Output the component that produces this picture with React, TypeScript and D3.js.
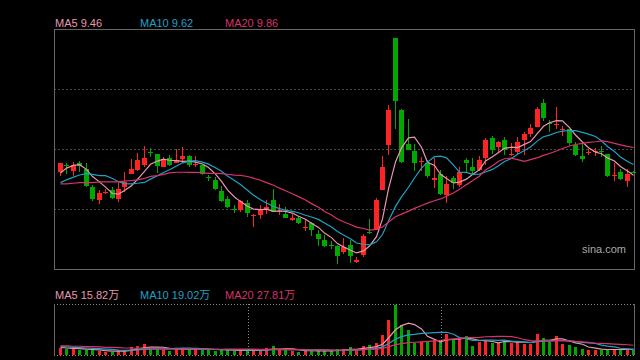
import React from "react";
import * as d3 from "d3";

// daily candles, 90 sessions
const opens = [
  9.51, 9.6, 9.52, 9.64, 9.54, 9.28, 9.1, 9.21, 9.24, 9.11,
  9.29, 9.48, 9.53, 9.61, 9.79, 9.76, 9.58, 9.7, 9.64, 9.69,
  9.74, 9.61, 9.6, 9.43, 9.39, 9.23, 9.11, 8.97, 8.95, 9.05,
  8.86, 8.88, 8.95, 9.1, 8.93, 8.9, 8.81, 8.84, 8.7, 8.76,
  8.61, 8.52, 8.44, 8.43, 8.35, 8.45, 8.2, 8.3, 8.64, 8.66,
  9.24, 9.9, 11.45, 10.4, 9.91, 9.81, 9.65, 9.64, 9.39, 9.48,
  9.17, 9.41, 9.32, 9.68, 9.57, 9.53, 9.71, 10.0, 9.86, 9.97,
  9.75, 9.8, 9.97, 10.05, 10.16, 10.5, 10.21, 10.19, 10.12, 10.12,
  9.9, 9.74, 9.78, 9.8, 9.81, 9.76, 9.45, 9.51, 9.38, 9.51,
];
const closes = [
  9.63, 9.59, 9.6, 9.59, 9.3, 9.11, 9.2, 9.22, 9.13, 9.26,
  9.36, 9.55, 9.68, 9.71, 9.78, 9.59, 9.69, 9.6, 9.68, 9.73,
  9.6, 9.62, 9.47, 9.42, 9.25, 9.08, 9.0, 8.96, 9.08, 8.91,
  8.88, 8.96, 8.99, 8.93, 8.94, 8.84, 8.84, 8.76, 8.71, 8.66,
  8.53, 8.43, 8.43, 8.28, 8.42, 8.29, 8.23, 8.58, 8.63, 9.1,
  9.58, 10.4, 10.54, 9.65, 9.82, 9.64, 9.66, 9.45, 9.42, 9.18,
  9.33, 9.34, 9.51, 9.64, 9.52, 9.68, 9.97, 9.82, 9.94, 9.82,
  9.77, 9.94, 10.05, 10.14, 10.42, 10.28, 10.2, 10.2, 10.13, 9.92,
  9.75, 9.69, 9.79, 9.81, 9.8, 9.45, 9.46, 9.4, 9.48, 9.5,
];
const highs = [
  9.64, 9.64, 9.65, 9.66, 9.64, 9.32, 9.24, 9.26, 9.28, 9.35,
  9.5, 9.69, 9.78, 9.88, 9.85, 9.77, 9.72, 9.75, 9.84, 9.86,
  9.75, 9.74, 9.61, 9.46, 9.43, 9.3, 9.15, 9.02, 9.1, 9.1,
  8.9, 9.02, 9.1, 9.26, 9.04, 8.99, 8.9, 8.86, 8.81, 8.78,
  8.66, 8.59, 8.5, 8.44, 8.55, 8.52, 8.27, 8.6, 8.82, 9.13,
  9.74, 10.47, 11.45, 10.41, 10.27, 9.91, 9.72, 9.68, 9.7, 9.53,
  9.45, 9.44, 9.57, 9.71, 9.7, 9.74, 9.99, 10.02, 9.95, 10.01,
  9.92, 10.01, 10.09, 10.2, 10.44, 10.56, 10.26, 10.45, 10.17, 10.13,
  9.94, 9.92, 9.83, 9.85, 9.88, 9.77, 9.63, 9.55, 9.54, 9.52,
];
const lows = [
  9.45, 9.48, 9.45, 9.51, 9.28, 9.09, 9.04, 9.18, 9.11, 9.07,
  9.22, 9.47, 9.52, 9.58, 9.72, 9.49, 9.57, 9.59, 9.63, 9.64,
  9.58, 9.57, 9.46, 9.38, 9.24, 9.07, 8.98, 8.91, 8.93, 8.85,
  8.71, 8.82, 8.89, 8.92, 8.88, 8.83, 8.8, 8.75, 8.65, 8.58,
  8.43, 8.42, 8.38, 8.17, 8.32, 8.19, 8.18, 8.27, 8.61, 8.66,
  9.24, 9.75, 10.13, 9.64, 9.82, 9.52, 9.52, 9.42, 9.27, 9.17,
  9.05, 9.25, 9.29, 9.51, 9.48, 9.52, 9.6, 9.77, 9.8, 9.75,
  9.74, 9.75, 9.75, 10.01, 10.15, 10.25, 10.08, 10.13, 10.03, 9.9,
  9.74, 9.65, 9.75, 9.74, 9.72, 9.43, 9.38, 9.39, 9.29, 9.49,
];
// volume, in 万 shares
const volumes = [
  19.2, 16.4, 20.1, 13.5, 13.5, 15.2, 11.5, 7.7, 7.7, 13.5,
  15.2, 22.1, 25.8, 30.7, 18.1, 18.1, 18.1, 11.5, 16.4, 19.2,
  15.2, 18.1, 16.4, 16.4, 12.3, 14.4, 14.4, 12.3, 13.5, 14.4,
  12.3, 12.3, 20.1, 25.8, 15.2, 14.4, 12.3, 9.5, 12.3, 12.3,
  13.5, 10.6, 11.5, 16.4, 18.5, 23.0, 10.6, 25.0, 27.8, 34.4,
  56.5, 99.6, 142.6, 87.0, 70.9, 35.3, 37.3, 37.3, 42.2, 37.3,
  61.1, 43.9, 46.8, 53.7, 25.8, 37.3, 42.2, 34.4, 35.3, 43.9,
  34.4, 37.3, 31.6, 31.6, 59.4, 49.7, 37.3, 53.7, 31.6, 27.8,
  23.0, 18.1, 13.5, 15.2, 13.5, 18.1, 18.1, 13.5, 16.4, 13.5,
];

// moving-average values before a full window exists
const ma5Head = [9.49, 9.56, 9.6, 9.61];
const ma10Head = [9.35, 9.39, 9.43, 9.46, 9.48, 9.47, 9.45, 9.45, 9.41];
const ma20Head = [
  9.33, 9.33, 9.34, 9.35, 9.35, 9.35, 9.36, 9.36, 9.36, 9.36,
  9.37, 9.38, 9.39, 9.41, 9.44, 9.45, 9.47, 9.49, 9.5,
];
const vma5Head = [22, 20, 19, 18];
const vma10Head = [24, 23, 22, 21, 20, 19, 18, 17, 16];
const vma20Head = [
  26, 26, 25, 25, 24, 24, 23, 22, 22, 21,
  20, 20, 19, 19, 18, 18, 17, 17, 17,
];

const maNames = ["MA5", "MA10", "MA20"];
const priceMaLabels = ["9.46", "9.62", "9.86"];
const volMaLabels = ["15.82万", "19.02万", "27.81万"];

const priceMin = 8.097;
const priceMax = 11.577;
const volMax = 146;
const separators = [29, 59];

const colors = {
  up: "#ff2424",
  down: "#00a800",
  ma: ["#e897ae", "#1da2c4", "#d6336c"],
  border: "#666",
  grid: "#4a4a4a",
};

const width = 640;
const height = 360;
const main = { left: 54, right: 634, top: 29, bottom: 269 };
const vol = { top: 304, bottom: 355 };
const font = "'Liberation Sans', Arial, 'Noto Sans CJK SC', sans-serif";

function movingAvg(values: number[], n: number, head: number[]) {
  return values.map((_, i) =>
    i < n - 1 ? head[i] : (d3.mean(values.slice(i - n + 1, i + 1)) as number)
  );
}

const App = () => {
  const idx = d3.range(closes.length);
  const x = d3
    .scaleBand<number>()
    .domain(idx)
    .range([56.8, 636.4])
    .paddingInner(0.22)
    .paddingOuter(0.11);
  const y = d3.scaleLinear().domain([priceMin, priceMax]).range([main.bottom, main.top]);
  const yv = d3.scaleLinear().domain([0, volMax]).range([vol.bottom, vol.top]);

  const cx = (i: number) => Math.round((x(i) as number) + x.bandwidth() / 2);
  const bodyW = Math.round(x.bandwidth());

  const priceMAs = [
    movingAvg(closes, 5, ma5Head),
    movingAvg(closes, 10, ma10Head),
    movingAvg(closes, 20, ma20Head),
  ];
  const volMAs = [
    movingAvg(volumes, 5, vma5Head),
    movingAvg(volumes, 10, vma10Head),
    movingAvg(volumes, 20, vma20Head),
  ];

  const priceLine = d3
    .line<number>()
    .x((_, i) => cx(i) + 0.5)
    .y((d) => y(d));
  const volLine = d3
    .line<number>()
    .x((_, i) => cx(i) + 0.5)
    .y((d) => yv(d));

  const grid = [1, 2, 3].map((k) => priceMin + (k * (priceMax - priceMin)) / 4);
  const labelX = [55, 140, 225];

  return (
    <svg
      width={width}
      height={height}
      style={{ position: "absolute", left: 0, top: 0, background: "#000" }}
    >
      <rect x={0} y={0} width={width} height={height} fill="#000" />

      {/* price panel */}
      {grid.map((g) => (
        <line
          key={g}
          x1={main.left}
          x2={main.right}
          y1={Math.round(y(g)) + 0.5}
          y2={Math.round(y(g)) + 0.5}
          stroke={colors.grid}
          strokeDasharray="2,2"
        />
      ))}
      <rect
        x={main.left + 0.5}
        y={main.top + 0.5}
        width={main.right - main.left}
        height={main.bottom - main.top}
        fill="none"
        stroke={colors.border}
      />

      {idx.map((i) => {
        const up = closes[i] >= opens[i];
        const c = up ? colors.up : colors.down;
        const top = Math.round(y(Math.max(opens[i], closes[i])));
        const bot = Math.round(y(Math.min(opens[i], closes[i])));
        return (
          <g key={i}>
            <line
              x1={cx(i) + 0.5}
              x2={cx(i) + 0.5}
              y1={Math.round(y(highs[i]))}
              y2={Math.round(y(lows[i]))}
              stroke={c}
            />
            <rect
              x={cx(i) - Math.floor(bodyW / 2)}
              y={top}
              width={bodyW}
              height={Math.max(1, bot - top)}
              fill={c}
            />
          </g>
        );
      })}

      {priceMAs.map((m, k) => (
        <path key={k} d={priceLine(m) ?? ""} fill="none" stroke={colors.ma[k]} strokeWidth={1.2} />
      ))}

      <text x={582} y={253} fill="#a8a8a8" fontSize={11} fontFamily={font}>
        sina.com
      </text>

      {maNames.map((name, k) => (
        <text key={name} x={labelX[k]} y={27} fill={colors.ma[k]} fontSize={11} fontFamily={font}>
          {name} {priceMaLabels[k]}
        </text>
      ))}

      {/* volume panel */}
      {maNames.map((name, k) => (
        <text key={name} x={labelX[k]} y={299} fill={colors.ma[k]} fontSize={11} fontFamily={font}>
          {name} {volMaLabels[k]}
        </text>
      ))}

      {idx.map((i) => (
        <rect
          key={i}
          x={cx(i) - 1}
          y={Math.round(yv(volumes[i]))}
          width={3}
          height={vol.bottom - Math.round(yv(volumes[i]))}
          fill={closes[i] >= opens[i] ? colors.up : colors.down}
        />
      ))}

      {volMAs.map((m, k) => (
        <path key={k} d={volLine(m) ?? ""} fill="none" stroke={colors.ma[k]} strokeWidth={1.2} />
      ))}

      {[vol.top, vol.bottom].map((v) => (
        <line
          key={v}
          x1={main.left}
          x2={main.right}
          y1={v + 0.5}
          y2={v + 0.5}
          stroke="#8a8a8a"
          strokeDasharray="1,2"
        />
      ))}
      {separators.map((s) => (
        <line
          key={s}
          x1={cx(s) + 1.5}
          x2={cx(s) + 1.5}
          y1={vol.top}
          y2={vol.bottom}
          stroke="#8a8a8a"
          strokeDasharray="1,2"
        />
      ))}
      {[main.left, main.right].map((v) => (
        <line key={v} x1={v + 0.5} x2={v + 0.5} y1={vol.top} y2={vol.bottom} stroke={colors.border} />
      ))}
    </svg>
  );
};

export default App;
